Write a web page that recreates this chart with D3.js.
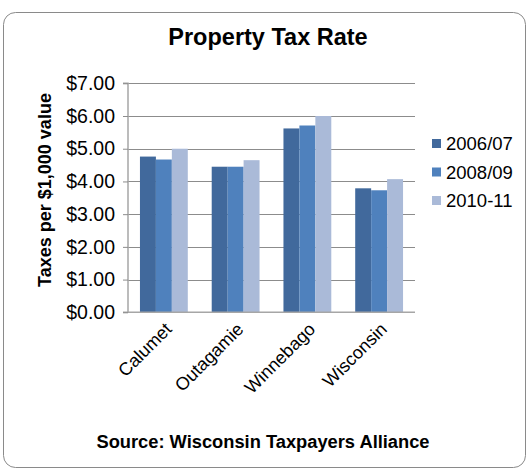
<!DOCTYPE html>
<html><head><meta charset="utf-8">
<script src="https://cdn.jsdelivr.net/npm/d3@7"></script>
<style>body{margin:0;background:#fff;} text{font-family:"Liberation Sans",Arial,sans-serif;}</style>
</head><body><svg id="c" width="530" height="470"></svg>
<script>
const categories = ["Calumet","Outagamie","Winnebago","Wisconsin"];
const seriesNames = ["2006/07","2008/09","2010-11"];
const s2006 = [4.76, 4.45, 5.62, 3.79];
const s2008 = [4.67, 4.45, 5.71, 3.73];
const s2010 = [5.00, 4.65, 6.00, 4.07];
const tickValues = [0,1,2,3,4,5,6,7];
const colors = ["#41699C","#4F81BD","#AABAD8"];
const series = [s2006, s2008, s2010];

const svg = d3.select("#c");
svg.append("rect").attr("x",3.5).attr("y",12.5).attr("width",522).attr("height",455)
  .attr("rx",12).attr("fill","#fff").attr("stroke","#8a8a8a").attr("stroke-width",1);

const L=128, R=415, T=83.3, B=312.3;
const x0 = d3.scaleBand().domain(categories).range([L,R]).paddingInner(0).paddingOuter(0);
const y = d3.scaleLinear().domain([0,7]).range([B,T]);
const gw = x0.bandwidth();
const barW = gw/4.5;

// gridlines
svg.append("g").selectAll("line").data(tickValues.slice(1)).join("line")
  .attr("x1",L).attr("x2",R).attr("y1",d=>Math.round(y(d))+0.5).attr("y2",d=>Math.round(y(d))+0.5)
  .attr("stroke","#8c8c8c").attr("stroke-width",1);

// bars
series.forEach((s,i)=>{
  svg.append("g").selectAll("rect").data(categories).join("rect")
    .attr("x",(d)=>x0(d)+gw/2-1.5*barW+i*barW)
    .attr("width",barW)
    .attr("y",(d,j)=>y(s[j]))
    .attr("height",(d,j)=>B-y(s[j]))
    .attr("fill",colors[i]);
});

// y axis
const yAxis = d3.axisLeft(y).tickValues(tickValues).tickSize(5).tickPadding(8)
  .tickFormat(d=>"$"+d3.format(".2f")(d));
const ga = svg.append("g").attr("transform",`translate(${L},0)`).call(yAxis);
ga.select(".domain").attr("stroke","#a6a6a6").attr("stroke-width",1.5).attr("d",`M-5,${T}H0V${B}H-5`);
ga.selectAll(".tick line").attr("stroke","#8c8c8c");
ga.selectAll(".tick text").attr("font-size","19.5px").attr("fill","#000").style("font-family","Liberation Sans, Arial");
// baseline
svg.append("line").attr("x1",L).attr("x2",R).attr("y1",B).attr("y2",B).attr("stroke","#a6a6a6").attr("stroke-width",1.5);

// x labels
svg.append("g").selectAll("text").data(categories).join("text")
  .attr("transform",d=>`translate(${x0(d)+gw/2+9},${B+18}) rotate(-45)`)
  .attr("text-anchor","end").attr("font-size","18px").text(d=>d);

// title
svg.append("text").attr("x",268).attr("y",45).attr("text-anchor","middle")
  .attr("font-size","23.5px").attr("font-weight","bold").text("Property Tax Rate");

// y-axis title
svg.append("text").attr("transform","translate(51,190) rotate(-90)").attr("text-anchor","middle")
  .attr("font-size","18px").attr("font-weight","bold").text("Taxes per $1,000 value");

// legend
const lg = svg.append("g");
seriesNames.forEach((n,i)=>{
  const cy = 143.5 + i*28.5;
  lg.append("rect").attr("x",432).attr("y",cy-4.5).attr("width",9).attr("height",9).attr("fill",colors[i]);
  lg.append("text").attr("x",446).attr("y",cy+6.5).attr("font-size","18.5px").text(n);
});

// source
svg.append("text").attr("x",263).attr("y",448).attr("text-anchor","middle")
  .attr("font-size","18.3px").attr("font-weight","bold").text("Source: Wisconsin Taxpayers Alliance");
</script></body></html>
